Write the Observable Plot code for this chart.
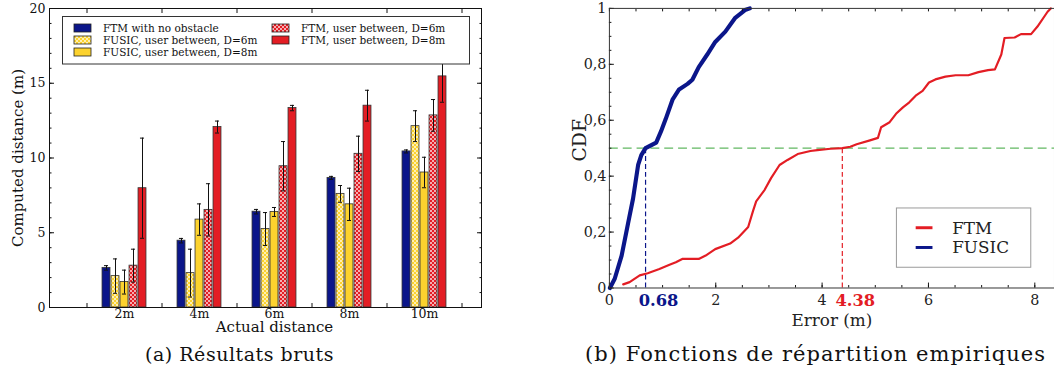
<!DOCTYPE html>
<html><head><meta charset="utf-8">
<script src="https://cdn.jsdelivr.net/npm/d3@7"></script>
<script src="https://cdn.jsdelivr.net/npm/@observablehq/plot@0.6"></script>
<style>
body{margin:0;background:#fff;width:1054px;height:379px;overflow:hidden;position:relative;font-family:"DejaVu Serif",serif}
#a{position:absolute;left:0;top:0}
#b{position:absolute;left:560px;top:0}
.cap{position:absolute;top:343px;white-space:nowrap;font-family:"DejaVu Serif",serif;color:#111;line-height:1.2}
#capa{font-size:19px}
#capb{font-size:21px;top:342px}
</style></head><body>
<div id="a"></div><div id="b"></div>
<div class="cap" id="capa">(a) Résultats bruts</div>
<div class="cap" id="capb">(b) Fonctions de répartition empiriques</div>
<script>
// ---------- data: (a) raw results ----------
const distances = ["2m", "4m", "6m", "8m", "10m"];
const series = ["FTM with no obstacle", "FUSIC, user between, D=6m", "FUSIC, user between, D=8m", "FTM, user between, D=6m", "FTM, user between, D=8m"];
const ftmNoObstacle    = [2.65, 4.47, 6.41, 8.67, 10.44];
const ftmNoObstacleErr = [0.15, 0.15, 0.15, 0.10, 0.10];
const fusicD6          = [2.10, 2.30, 5.25, 7.60, 12.13];
const fusicD6Err       = [1.15, 1.60, 1.10, 0.56, 1.03];
const fusicD8          = [1.70, 5.88, 6.39, 6.90, 9.03];
const fusicD8Err       = [0.80, 1.05, 0.30, 1.08, 1.02];
const ftmD6            = [2.80, 6.53, 9.45, 10.28, 12.85];
const ftmD6Err         = [1.10, 1.75, 1.65, 1.18, 1.06];
const ftmD8            = [7.98, 12.07, 13.34, 13.50, 15.46];
const ftmD8Err         = [3.35, 0.40, 0.18, 1.03, 1.73];

// ---------- data: (b) empirical CDFs ----------
const fusicErrX = [0.01, 0.10, 0.23, 0.35, 0.445, 0.54, 0.60, 0.68, 0.88, 0.97, 1.06, 1.19, 1.31, 1.47, 1.56, 1.68, 1.84, 1.99, 2.18, 2.36, 2.55, 2.64];
const fusicCdf  = [0, 0.033, 0.116, 0.23, 0.32, 0.44, 0.475, 0.50, 0.52, 0.56, 0.605, 0.675, 0.71, 0.73, 0.745, 0.79, 0.835, 0.88, 0.917, 0.965, 0.994, 1.0];
const ftmErrX = [0.26, 0.38, 0.57, 0.72, 0.94, 1.13, 1.25, 1.37, 1.68, 1.81, 1.99, 2.27, 2.42, 2.61, 2.70, 2.76, 2.92, 3.04, 3.20, 3.35, 3.54, 3.78, 3.91, 4.16, 4.38, 4.53, 4.65, 4.90, 5.05, 5.11, 5.27, 5.39, 5.52, 5.64, 5.76, 5.89, 6.01, 6.13, 6.32, 6.51, 6.75, 6.94, 7.12, 7.25, 7.37, 7.43, 7.62, 7.74, 7.93, 8.05, 8.24, 8.30];
const ftmCdf  = [0.013, 0.021, 0.045, 0.053, 0.068, 0.083, 0.092, 0.104, 0.104, 0.116, 0.139, 0.159, 0.18, 0.218, 0.275, 0.31, 0.351, 0.393, 0.44, 0.458, 0.479, 0.49, 0.493, 0.498, 0.50, 0.505, 0.514, 0.528, 0.537, 0.575, 0.593, 0.623, 0.646, 0.664, 0.688, 0.705, 0.735, 0.746, 0.756, 0.761, 0.761, 0.772, 0.779, 0.782, 0.835, 0.894, 0.896, 0.908, 0.908, 0.935, 0.988, 1.0];
const medians = [0.68, 4.38];
const cdfNames = ["FTM", "FUSIC"];

// ---------- styles ----------
const NAVY = "#0b168a", GOLD = "#fcd22e", RED = "#e31d24";
const fills = [NAVY, "url(#yhatch)", GOLD, "url(#rcheck)", RED];
const serif = "DejaVu Serif";

// ---------- chart (a) ----------
const vals = [ftmNoObstacle, fusicD6, fusicD8, ftmD6, ftmD8];
const errs = [ftmNoObstacleErr, fusicD6Err, fusicD8Err, ftmD6Err, ftmD8Err];
const bars = [];
vals.forEach((arr, j) => arr.forEach((v, i) => bars.push({series: series[j], j, g: i + 1, v, e: errs[j][i]})));
const step = 0.12, half = 0.053, cap = 0.027;
const cx = d => d.g + (d.j - 2) * step;
const tickOpts = {text: null, label: null, stroke: "#111"};

const chartA = Plot.plot({
  width: 490, height: 337, marginLeft: 49, marginRight: 9, marginTop: 8, marginBottom: 30,
  style: {fontFamily: serif, fontSize: "12.5px", color: "#111", background: "white", overflow: "visible"},
  x: {domain: [0, 5.76], axis: null},
  y: {domain: [0, 20], axis: null},
  marks: [
    ...fills.map((f, j) => Plot.rectY(bars.filter(d => d.j === j), {
      x1: d => cx(d) - half, x2: d => cx(d) + half, y1: 0, y2: "v",
      fill: f, stroke: "#333", strokeWidth: 0.8
    })),
    Plot.ruleX(bars, {x: cx, y1: d => d.v - d.e, y2: d => d.v + d.e, stroke: "#111", strokeWidth: 1}),
    Plot.ruleY(bars, {y: d => d.v + d.e, x1: d => cx(d) - cap, x2: d => cx(d) + cap, stroke: "#111", strokeWidth: 1}),
    Plot.ruleY(bars, {y: d => d.v - d.e, x1: d => cx(d) - cap, x2: d => cx(d) + cap, stroke: "#111", strokeWidth: 1}),
    Plot.axisY({anchor: "left", ticks: [0, 5, 10, 15, 20], tickSize: 0, tickPadding: 4, label: null}),
    Plot.axisY({anchor: "left", ticks: d3.range(0, 21, 5), tickSize: -5, ...tickOpts}),
    Plot.axisY({anchor: "left", ticks: d3.range(0, 21, 1), tickSize: -2.5, ...tickOpts}),
    Plot.axisY({anchor: "right", ticks: d3.range(0, 21, 5), tickSize: -5, ...tickOpts}),
    Plot.axisY({anchor: "right", ticks: d3.range(0, 21, 1), tickSize: -2.5, ...tickOpts}),
    Plot.axisX({anchor: "bottom", ticks: [1, 2, 3, 4, 5], tickFormat: i => distances[i - 1], tickSize: 0, tickPadding: 2, label: null}),
    Plot.axisX({anchor: "bottom", ticks: [0.5, 1.5, 2.5, 3.5, 4.5, 5.5], tickSize: -4, ...tickOpts}),
    Plot.axisX({anchor: "top", ticks: [0.5, 1.5, 2.5, 3.5, 4.5, 5.5], tickSize: -4, ...tickOpts}),
    Plot.frame({stroke: "#111"}),
    Plot.text(["Computed distance (m)"], {text: d => d, frameAnchor: "left", textAnchor: "middle", lineAnchor: "middle", dx: -31, rotate: -90, fontSize: 15, fill: "#111"}),
    Plot.text(["Actual distance"], {text: d => d, frameAnchor: "bottom", textAnchor: "middle", lineAnchor: "middle", dx: 9, dy: 20, fontSize: 15, fill: "#111"})
  ]
});
document.getElementById("a").appendChild(chartA);

// patterns and legend for (a)
(function () {
  const svg = d3.select(chartA);
  const defs = svg.insert("defs", ":first-child");
  const mk = (id, base) => {
    const p = defs.append("pattern").attr("id", id).attr("patternUnits", "userSpaceOnUse").attr("width", 4).attr("height", 4);
    p.append("rect").attr("width", 4).attr("height", 4).attr("fill", base);
    p.append("rect").attr("x", 0.2).attr("y", 0.2).attr("width", 1.6).attr("height", 1.6).attr("fill", "#fff");
    p.append("rect").attr("x", 2.2).attr("y", 2.2).attr("width", 1.6).attr("height", 1.6).attr("fill", "#fff");
  };
  mk("yhatch", GOLD);
  mk("rcheck", RED);
  const g = svg.append("g").attr("font-family", serif).attr("font-size", 10.5).attr("text-anchor", "start");
  g.append("rect").attr("x", 62.5).attr("y", 16.5).attr("width", 407).attr("height", 47.5).attr("fill", "white").attr("stroke", "#333");
  const pos = [[74, 28], [74, 40], [74, 52], [272, 28], [272, 40]];
  series.forEach((s, j) => {
    const [x, y] = pos[j];
    g.append("rect").attr("x", x).attr("y", y - 4).attr("width", 17).attr("height", 8).attr("fill", fills[j]).attr("stroke", "#222").attr("stroke-width", 0.8);
    g.append("text").attr("x", x + 29).attr("y", y).attr("dy", "0.35em").attr("fill", "#111").text(s);
  });
})();

// ---------- chart (b) ----------
const fusicPts = fusicErrX.map((x, i) => ({x, y: fusicCdf[i]}));
const ftmPts = ftmErrX.map((x, i) => ({x, y: ftmCdf[i]}));
const medColors = [NAVY, RED];
const chartB = Plot.plot({
  width: 500, height: 335, marginLeft: 49.5, marginRight: 0, marginTop: 8, marginBottom: 44,
  style: {fontFamily: serif, fontSize: "14.5px", color: "#222", background: "white", overflow: "visible"},
  x: {domain: [0, 8.37], axis: null},
  y: {domain: [0, 1], axis: null},
  marks: [
    Plot.ruleY([0.5], {stroke: "#62b862", strokeDasharray: "9,5", strokeWidth: 1.2}),
    Plot.ruleX(medians, {x: d => d, y1: 0, y2: 0.5, stroke: (d, i) => medColors[i], strokeDasharray: "5,3", strokeWidth: 1.2}),
    Plot.line(ftmPts, {x: "x", y: "y", stroke: RED, strokeWidth: 2.2, strokeLinejoin: "round"}),
    Plot.line(fusicPts, {x: "x", y: "y", stroke: NAVY, strokeWidth: 4.2, strokeLinejoin: "round"}),
    Plot.axisY({anchor: "left", ticks: [0, 0.2, 0.4, 0.6, 0.8, 1], tickFormat: d => String(d).replace(".", ","), tickSize: 0, tickPadding: 3, label: null}),
    Plot.axisY({anchor: "left", ticks: d3.range(0, 1.01, 0.2), tickSize: -5, ...tickOpts}),
    Plot.axisY({anchor: "left", ticks: d3.range(0, 1.01, 0.05), tickSize: -2.5, ...tickOpts}),
    Plot.axisX({anchor: "bottom", ticks: [0, 2, 4, 6, 8], tickSize: 0, tickPadding: 7, label: null}),
    Plot.axisX({anchor: "bottom", ticks: [0, 2, 4, 6, 8], tickSize: -5, ...tickOpts}),
    Plot.axisX({anchor: "bottom", ticks: d3.range(0, 8.4, 0.5), tickSize: -2.5, ...tickOpts}),
    Plot.axisX({anchor: "top", ticks: d3.range(0, 8.4, 0.5), tickSize: -2.5, ...tickOpts}),
    Plot.frame({stroke: "#333"}),
    Plot.text(medians, {x: d => d, text: d => d.toFixed(2), frameAnchor: "bottom", lineAnchor: "middle", dy: 13, dx: -7, textAnchor: "start", fill: (d, i) => medColors[i], fontWeight: "bold", fontSize: 16.5}),
    Plot.text(["CDF"], {text: d => d, frameAnchor: "left", textAnchor: "middle", lineAnchor: "middle", dx: -30, dy: -8, rotate: -90, fontSize: 19, fill: "#222"}),
    Plot.text(["Error (m)"], {text: d => d, frameAnchor: "bottom", textAnchor: "middle", lineAnchor: "middle", dy: 33, fontSize: 17, fill: "#222"})
  ]
});
document.getElementById("b").appendChild(chartB);

(function () {
  const svg = d3.select(chartB);
  const g = svg.append("g").attr("font-family", serif).attr("font-size", 17).attr("text-anchor", "start");
  g.append("rect").attr("x", 340.5).attr("y", 210.5).attr("width", 136).attr("height", 60).attr("fill", "white").attr("stroke", "#999");
  const ys = [230.5, 250.5];
  const cols = [RED, NAVY];
  cdfNames.forEach((s, j) => {
    g.append("line").attr("x1", 360).attr("x2", 377).attr("y1", ys[j]).attr("y2", ys[j]).attr("stroke", cols[j]).attr("stroke-width", 3);
    g.append("text").attr("x", 397).attr("y", ys[j]).attr("dy", "0.35em").attr("fill", "#222").text(s);
  });
})();

// captions: fit widths
function fitCap(id, left, width) {
  const el = document.getElementById(id);
  const natural = el.getBoundingClientRect().width;
  const n = el.textContent.length;
  el.style.letterSpacing = ((width - natural) / n) + "px";
  el.style.left = left + "px";
}
fitCap("capa", 145, 189);
fitCap("capb", 585, 461);
</script>
</body></html>
